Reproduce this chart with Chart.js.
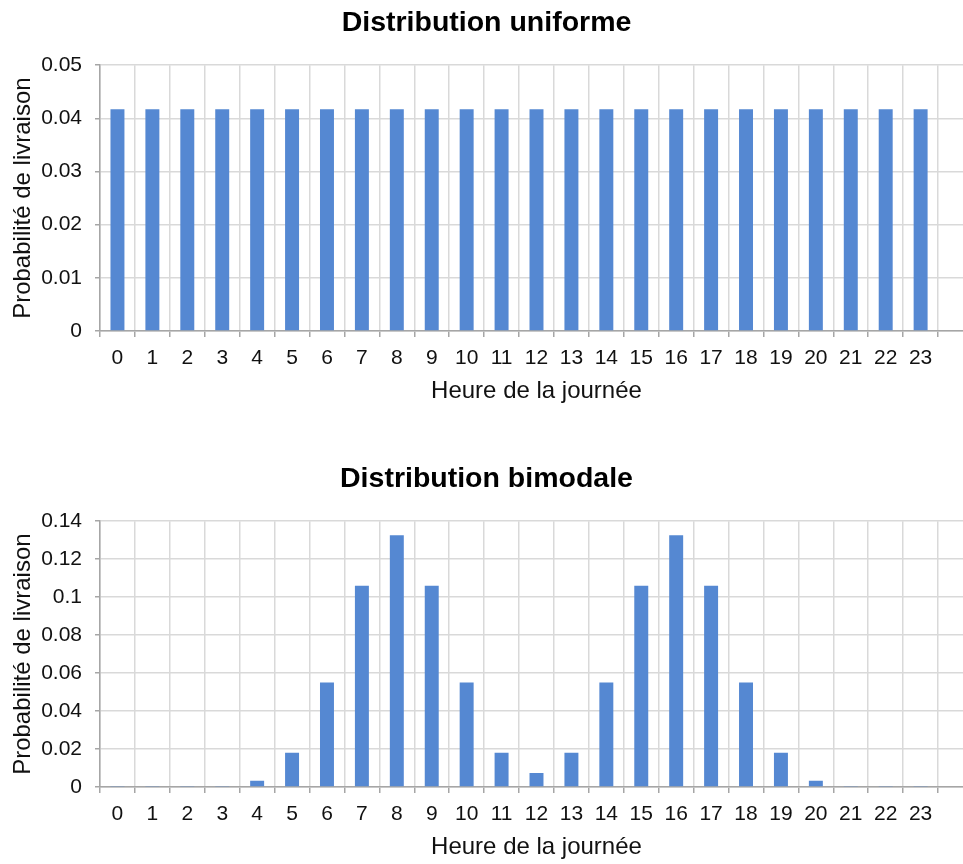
<!DOCTYPE html>
<html>
<head>
<meta charset="utf-8">
<script src="https://cdn.jsdelivr.net/npm/chart.js@4/dist/chart.umd.min.js"></script>
<style>
  html, body { margin: 0; padding: 0; background: #fff; overflow: hidden; }
  .box { position: absolute; left: 0; width: 973px; height: 456px; }
</style>
</head>
<body>
<div class="box" style="top:0px"><canvas id="chart-uniform"></canvas></div>
<div class="box" style="top:456px"><canvas id="chart-bimodal"></canvas></div>
<script>
// hours of the day, the trailing empty slot is the cut-off category on the right
const hours = ['0', '1', '2', '3', '4', '5', '6', '7', '8', '9', '10', '11',
    '12', '13', '14', '15', '16', '17', '18', '19', '20', '21', '22', '23', ''];

const uniformValues = [0.0417, 0.0417, 0.0417, 0.0417, 0.0417, 0.0417, 0.0417, 0.0417,
    0.0417, 0.0417, 0.0417, 0.0417, 0.0417, 0.0417, 0.0417, 0.0417,
    0.0417, 0.0417, 0.0417, 0.0417, 0.0417, 0.0417, 0.0417, 0.0417];

const bimodalValues = [0.0002, 0.0002, 0.0002, 0.0005, 0.0033, 0.018, 0.055, 0.106,
    0.1326, 0.106, 0.055, 0.018, 0.0074, 0.018, 0.055, 0.106,
    0.1326, 0.106, 0.055, 0.018, 0.0033, 0.0005, 0.0002, 0.0002];

const xTitle = 'Heure de la journée';
const yTitle = 'Probabilité de livraison';

Chart.defaults.font.family = "'Liberation Sans', Arial, sans-serif";
Chart.defaults.font.size = 21;
Chart.defaults.color = '#111';

function createChart(canvasId, title, values, yMax, yStep) {
    const ctx = document.getElementById(canvasId);
    return new Chart(ctx, {
        type: 'bar',
        data: {
            labels: hours,
            datasets: [{
                data: values,
                backgroundColor: '#5588d2',
                categoryPercentage: 1,
                barPercentage: 0.4
            }]
        },
        options: {
            responsive: true,
            maintainAspectRatio: false,
            animation: false,
            layout: {
                padding: { left: 0, right: 0, top: 0, bottom: 50 }
            },
            plugins: {
                legend: { display: false },
                tooltip: { enabled: false },
                title: {
                    display: true,
                    text: title,
                    color: '#000',
                    font: { size: 28.5, weight: 'bold' },
                    padding: { top: 6, bottom: 25 }
                }
            },
            scales: {
                x: {
                    offset: true,
                    grid: {
                        offset: true,
                        color: '#d9d9d9',
                        lineWidth: 1.5,
                        tickColor: '#a6a6a6',
                        tickLength: 6
                    },
                    border: { color: '#a6a6a6', width: 1.5 },
                    ticks: {
                        padding: 9,
                        maxRotation: 0,
                        autoSkip: false
                    },
                    title: {
                        display: true,
                        text: xTitle,
                        color: '#111',
                        font: { size: 24 },
                        padding: { top: -3, bottom: 0 }
                    }
                },
                y: {
                    min: 0,
                    max: yMax,
                    afterFit: (scale) => { scale.width = 100; },
                    grid: {
                        color: '#d9d9d9',
                        lineWidth: 1.5,
                        tickColor: '#a6a6a6',
                        tickLength: 5
                    },
                    border: { color: '#a6a6a6', width: 1.5 },
                    ticks: {
                        stepSize: yStep,
                        padding: 13,
                        callback: (value) => String(+value.toFixed(2))
                    },
                    title: {
                        display: true,
                        text: yTitle,
                        color: '#111',
                        font: { size: 24 },
                        padding: { top: 9, bottom: 4 }
                    }
                }
            }
        }
    });
}

createChart('chart-uniform', 'Distribution uniforme', uniformValues, 0.05, 0.01);
createChart('chart-bimodal', 'Distribution bimodale', bimodalValues, 0.14, 0.02);
</script>
</body>
</html>
